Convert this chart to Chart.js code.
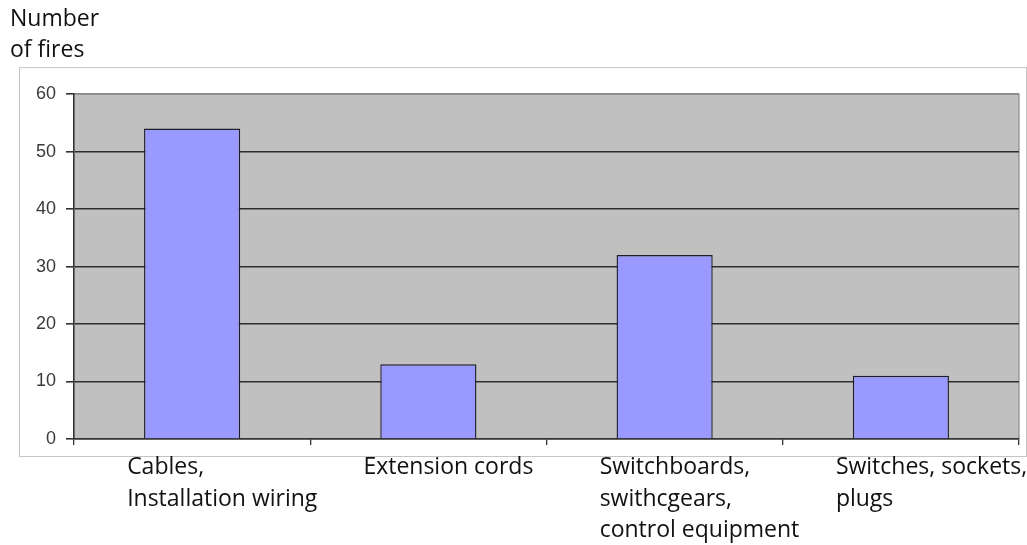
<!DOCTYPE html>
<html>
<head>
<meta charset="utf-8">
<script src="https://cdn.jsdelivr.net/npm/chart.js@4.4.0/dist/chart.umd.min.js"></script>
<style>
  html, body { margin: 0; padding: 0; background: #ffffff; }
  #wrap { width: 1027px; height: 545px; position: relative; }
</style>
</head>
<body>
<div id="wrap"><canvas id="fireChart"></canvas></div>
<script>
// Fire causes by equipment type
const categories = [
    ['Cables,', 'Installation wiring'],
    ['Extension cords'],
    ['Switchboards,', 'swithcgears,', 'control equipment'],
    ['Switches, sockets,', 'plugs']
];
const fireCounts = [54, 13, 32, 11];
const yTicks = [0, 10, 20, 30, 40, 50, 60];
const axisTitle = ['Number', 'of fires'];

// frame + grey plot background behind the bars
const backdropPlugin = {
    id: 'backdrop',
    beforeDraw(chart) {
        const { ctx, chartArea: a } = chart;
        const fx = a.left - 55, fy = a.top - 27;
        const fw = (a.right + 7) - fx, fh = (a.bottom + 17) - fy;
        ctx.save();
        ctx.fillStyle = '#ffffff';
        ctx.fillRect(fx, fy, fw, fh);
        ctx.strokeStyle = '#c4c4c4';
        ctx.lineWidth = 1;
        ctx.strokeRect(fx + 0.5, fy + 0.5, fw, fh);
        ctx.fillStyle = '#c0c0c0';
        ctx.fillRect(a.left, a.top, a.right - a.left, a.bottom - a.top);
        ctx.strokeStyle = '#8a8a8a';
        ctx.lineWidth = 1.2;
        ctx.beginPath();
        ctx.moveTo(a.left, a.top);
        ctx.lineTo(a.right, a.top);
        ctx.lineTo(a.right, a.bottom);
        ctx.stroke();
        ctx.restore();
    }
};

new Chart(document.getElementById('fireChart'), {
    type: 'bar',
    data: {
        labels: categories,
        datasets: [{
            label: 'Number of fires',
            data: fireCounts,
            backgroundColor: '#9999ff',
            borderColor: '#1e1e2a',
            borderWidth: 1.4,
            categoryPercentage: 1,
            barPercentage: 0.407
        }]
    },
    options: {
        responsive: true,
        maintainAspectRatio: false,
        animation: false,
        layout: {
            padding: { left: 10, right: 8, top: 0, bottom: 0 }
        },
        scales: {
            x: {
                grid: {
                    offset: true,
                    drawOnChartArea: false,
                    drawTicks: true,
                    tickLength: 6,
                    tickColor: '#333333',
                    lineWidth: 1.3
                },
                border: { display: true, color: '#333333', width: 1.6 },
                ticks: {
                    align: 'start',
                    labelOffset: -65,
                    padding: 6,
                    color: '#111111',
                    maxRotation: 0,
                    autoSkip: false,
                    font: { family: '"Open Sans", sans-serif', size: 23, lineHeight: 1.39 }
                },
                afterFit(scale) {
                    scale.height = 106;
                    scale.paddingLeft = 0;
                    scale.paddingRight = 0;
                }
            },
            y: {
                min: 0,
                max: 60,
                afterBuildTicks(scale) {
                    scale.ticks = yTicks.map(v => ({ value: v }));
                },
                grid: {
                    color: ctx => ctx.tick && ctx.tick.value === 60 ? '#8a8a8a' : '#2e2e2e',
                    lineWidth: 1.6,
                    drawTicks: true,
                    tickLength: 8,
                    tickColor: '#333333'
                },
                border: { display: true, color: '#333333', width: 1.6 },
                ticks: {
                    padding: 10,
                    color: '#3a3a3a',
                    font: { family: '"Liberation Sans", Arial, sans-serif', size: 18 }
                },
                afterFit(scale) { scale.width = 64; }
            }
        },
        plugins: {
            legend: { display: false },
            tooltip: { enabled: false },
            title: {
                display: true,
                text: axisTitle,
                align: 'start',
                color: '#111111',
                font: { family: '"Open Sans", sans-serif', size: 23, weight: 'normal', lineHeight: 1.35 },
                padding: { top: 4, bottom: 28 }
            }
        }
    },
    plugins: [backdropPlugin]
});
</script>
</body>
</html>
